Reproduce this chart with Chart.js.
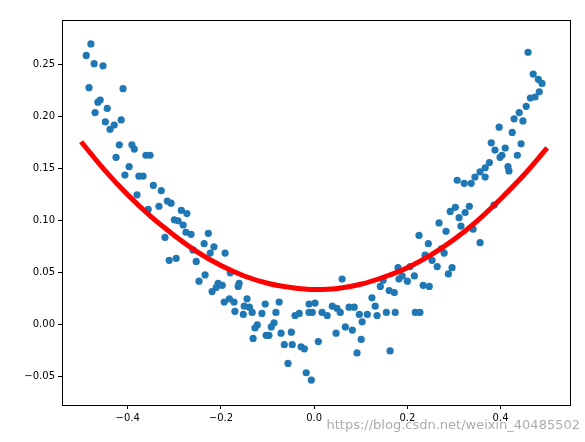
<!DOCTYPE html>
<html><head><meta charset="utf-8">
<script src="https://cdn.jsdelivr.net/npm/chart.js@4/dist/chart.umd.min.js"></script>
<style>html,body{margin:0;padding:0;background:#fff}#w{width:585px;height:442px}</style>
</head><body><div id="w"><canvas id="c"></canvas></div>
<script>
const scatterX=[-0.479,-0.489,-0.472,-0.453,-0.483,-0.410,-0.464,-0.459,-0.470,-0.444,-0.448,-0.429,-0.438,-0.414,-0.418,-0.391,-0.386,-0.425,-0.361,-0.352,-0.397,-0.406,-0.376,-0.367,-0.345,-0.380,-0.328,-0.315,-0.307,-0.333,-0.356,-0.285,-0.273,-0.300,-0.292,-0.281,-0.275,-0.264,-0.227,-0.320,-0.236,-0.215,-0.260,-0.191,-0.223,-0.296,-0.311,-0.253,-0.180,-0.234,-0.247,-0.161,-0.206,-0.197,-0.163,-0.210,-0.219,-0.193,-0.182,-0.172,-0.144,-0.150,-0.139,-0.170,-0.152,-0.133,-0.105,-0.075,-0.112,-0.082,-0.122,-0.127,-0.086,-0.092,-0.103,-0.097,-0.131,-0.071,-0.049,-0.041,-0.032,-0.011,-0.011,-0.064,-0.047,-0.028,-0.021,-0.056,-0.017,-0.006,
0.459,0.470,0.481,0.489,0.483,0.474,0.464,0.455,0.440,0.429,0.448,0.397,0.425,0.380,0.410,0.388,0.444,0.436,0.403,0.399,0.376,0.367,0.416,0.418,0.356,0.367,0.345,0.307,0.322,0.337,0.386,0.333,0.303,0.292,0.324,0.311,0.315,0.268,0.283,0.341,0.356,0.225,0.245,0.273,0.279,0.238,0.253,0.264,0.296,0.288,0.206,0.180,0.189,0.215,0.200,0.182,0.148,0.142,0.161,0.172,0.234,0.247,0.060,0.124,0.131,0.002,0.039,0.049,0.075,0.086,0.017,0.028,0.056,0.097,0.114,0.135,0.155,0.174,0.217,0.227,-0.004,0.103,0.067,0.082,0.047,0.009,0.101,0.092,0.163];
const scatterY=[0.270,0.259,0.251,0.249,0.228,0.227,0.214,0.216,0.204,0.208,0.195,0.192,0.188,0.197,0.173,0.173,0.169,0.161,0.163,0.163,0.152,0.144,0.143,0.143,0.134,0.125,0.129,0.119,0.117,0.114,0.111,0.110,0.107,0.101,0.100,0.096,0.089,0.087,0.088,0.084,0.078,0.075,0.072,0.069,0.069,0.064,0.062,0.061,0.050,0.048,0.042,0.040,0.040,0.038,0.037,0.036,0.032,0.022,0.025,0.022,0.025,0.018,0.017,0.013,0.010,0.012,0.020,0.022,0.011,0.012,0.000,-0.003,0.002,-0.002,-0.010,-0.010,-0.013,-0.008,-0.007,0.009,0.011,0.020,0.012,-0.019,-0.019,-0.021,-0.023,-0.037,-0.046,-0.053,
0.262,0.241,0.236,0.232,0.224,0.219,0.218,0.210,0.204,0.198,0.196,0.190,0.185,0.175,0.170,0.168,0.174,0.163,0.163,0.161,0.156,0.151,0.152,0.148,0.147,0.142,0.142,0.139,0.136,0.136,0.115,0.114,0.113,0.109,0.108,0.103,0.095,0.098,0.090,0.092,0.079,0.086,0.078,0.073,0.069,0.067,0.062,0.056,0.055,0.049,0.056,0.055,0.047,0.047,0.042,0.044,0.043,0.037,0.033,0.031,0.038,0.037,0.044,0.026,0.018,0.021,0.018,0.016,0.017,0.017,0.012,0.009,0.012,0.010,0.010,0.009,0.012,0.012,0.012,0.012,0.012,0.003,-0.002,-0.005,-0.008,-0.016,-0.014,-0.027,-0.025];
const fitX=[-0.5,-0.45,-0.4,-0.35,-0.3,-0.25,-0.2,-0.15,-0.1,-0.05,0,0.05,0.1,0.15,0.2,0.25,0.3,0.35,0.4,0.45,0.5];
const fitY=[0.176,0.149,0.125,0.104,0.086,0.070,0.057,0.047,0.040,0.036,0.034,0.035,0.039,0.046,0.055,0.067,0.082,0.100,0.121,0.144,0.170];
const xTicks=[-0.4,-0.2,0,0.2,0.4];
const yTicks=[-0.05,0,0.05,0.1,0.15,0.2,0.25];
const fmt=(v,d)=>(v<0?'\u2212':'')+Math.abs(v).toFixed(d);
const frame={id:'frame',afterDraw(ch){const {ctx,chartArea:a}=ch;ctx.save();ctx.strokeStyle='#000';ctx.lineWidth=1;ctx.strokeRect(a.left+0.5,a.top+0.5,a.right-a.left,a.bottom-a.top);
ctx.font='13px "DejaVu Sans"';ctx.fillStyle='rgba(150,150,150,0.8)';ctx.textAlign='right';ctx.textBaseline='bottom';ctx.fillText('https://blog.csdn.net/weixin_40485502',580,432);ctx.restore();}};
new Chart(document.getElementById('c'),{
 data:{datasets:[
  {type:'scatter',data:scatterX.map((x,i)=>({x,y:scatterY[i]})),backgroundColor:'#1f77b4',borderWidth:0,pointRadius:3.6,order:2},
  {type:'line',data:fitX.map((x,i)=>({x,y:fitY[i]})),borderColor:'#ff0000',borderWidth:5,pointRadius:0,tension:0.4,cubicInterpolationMode:'monotone',order:1}
 ]},
 options:{responsive:true,maintainAspectRatio:false,animation:false,
  layout:{padding:{top:20,right:15,left:0,bottom:0}},
  plugins:{legend:{display:false},tooltip:{enabled:false}},
  scales:{
   x:{type:'linear',min:-0.541,max:0.549,afterBuildTicks:s=>{s.ticks=xTicks.map(v=>({value:v}));},afterFit:s=>{s.height=37;},
      grid:{drawOnChartArea:false,tickLength:4,color:'#000'},border:{display:false},
      ticks:{color:'#000',font:{family:'DejaVu Sans',size:10},padding:3,callback:v=>fmt(v,1),maxRotation:0}},
   y:{type:'linear',min:-0.077,max:0.293,afterBuildTicks:s=>{s.ticks=yTicks.map(v=>({value:v}));},afterFit:s=>{s.width=62;},
      grid:{drawOnChartArea:false,tickLength:4,color:'#000'},border:{display:false},
      ticks:{color:'#000',font:{family:'DejaVu Sans',size:10},padding:3,callback:v=>fmt(v,2)}}
  }},
 plugins:[frame]});
</script></body></html>
